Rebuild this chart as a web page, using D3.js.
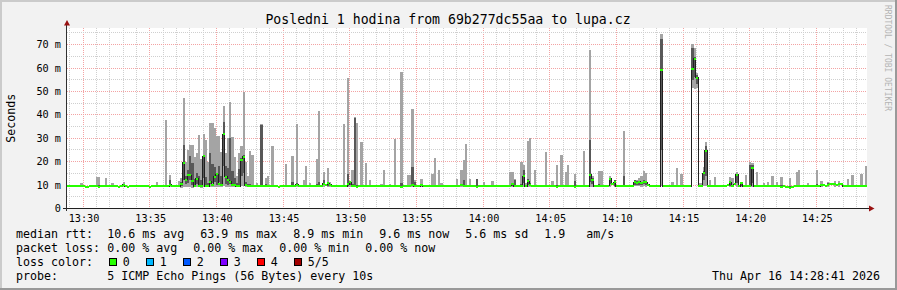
<!DOCTYPE html>
<html lang="en">
<head>
<meta charset="UTF-8">
<title>Smokeping - lupa.cz</title>
<script src="https://cdn.jsdelivr.net/npm/d3@7"></script>
<style>
  body { margin: 0; background: #f2f2f2; }
  text { font-family: "DejaVu Sans Mono", monospace; fill: #000; }
</style>
</head>
<body>
<div id="smoke"></div>
<script>

// ---- data ----
var title = "Posledni 1 hodina from 69b277dc55aa to lupa.cz";
var chartStart = "2026-04-16T13:28:47";
var chartEnd = "2026-04-16T14:28:47";
var stepSeconds = 10;

var yTicks = [0, 10, 20, 30, 40, 50, 60, 70];
var xTickLabels = ["13:30", "13:35", "13:40", "13:45", "13:50", "13:55",
                   "14:00", "14:05", "14:10", "14:15", "14:20", "14:25"];

// median rtt (ms), one value per 10 s step, 30 per row = 5 minutes
var medianMs = [
  9.6,9.5,9.6,9.4,9.5,9.7,9.8,9.5,9.2,9.3, 9.4,9.5,9.6,9.4,9.3,9.5,9.6,9.5,9.4,9.6, 9.5,9.7,9.6,9.3,9.5,10.1,9.6,9.2,9.4,9.5,
  9.5,9.6,9.4,9.5,9.7,9.6,9.5,9.3,9.6,9.5, 9.4,9.5,9.6,9.5,9.8,9.6,10.2,9.5,9.4,9.6, 9.5,10.6,19.6,12.3,14.4,14.2,11.6,9.5,12.7,9.6,
  9.5,22.3,9.6,9.4,11.4,10.2,13.6,14.7,10.4,10.2, 31.8,13.6,12.0,11.4,9.9,10.0,9.6,9.5,20.7,22.1, 10.0,9.6,9.8,9.5,9.6,9.7,9.5,9.6,9.4,9.6,
  9.6,9.4,9.5,9.7,9.5,9.2,9.4,9.6,9.5,9.5, 9.6,9.8,9.7,10.2,9.5,9.4,9.5,9.6,9.4,9.5, 9.6,9.5,9.4,9.8,9.6,10.5,10.2,10.8,10.1,9.7,
  9.5,9.6,9.4,9.5,9.6,9.4,10.4,11.2,9.4,9.6, 9.3,9.7,9.5,9.6,9.4,9.5,9.6,9.5,9.4,9.6, 9.5,9.7,9.6,9.5,9.4,9.6,9.5,9.6,9.8,9.5,
  9.3,9.5,9.6,9.7,9.8,9.9,9.4,9.6,9.5,10.1, 9.6,9.5,9.4,9.6,9.7,9.5,9.6,9.8,9.5,9.4, 9.6,9.5,9.7,9.5,9.4,9.6,9.8,9.9,9.7,9.6,
  9.6,9.5,9.4,9.6,9.2,9.5,9.6,9.7,9.5,9.4, 9.6,9.5,9.4,9.6,9.5,9.7,9.6,9.5,9.4,9.7, 10.3,9.5,9.6,9.5,9.8,13.7,9.5,11.6,10.0,9.6,
  9.5,9.7,9.4,9.6,9.5,9.8,9.6,9.4,9.5,9.6, 9.3,9.5,9.6,9.7,9.5,9.4,9.6,9.5,9.2,9.5, 9.6,9.5,9.7,9.6,9.4,14.4,12.3,9.5,9.6,9.5,
  9.5,9.6,9.4,9.7,12.7,10.3,11.2,9.5,9.6,9.4, 9.6,9.5,9.7,9.6,9.5,11.2,11.0,11.4,10.9,11.3, 11.2,10.2,9.6,9.5,9.7,9.6,9.4,59.3,9.6,9.5,
  9.6,9.5,9.7,9.5,9.4,9.6,9.5,9.6,9.4,9.5, 9.6,59.8,63.9,55.8,9.6,9.5,15.1,24.7,9.6,9.5, 9.4,9.6,9.5,9.4,9.6,9.5,9.7,10.1,11.2,9.6,
  10.4,14.4,9.6,10.9,9.5,9.6,9.4,9.8,17.3,9.6, 9.5,9.6,9.4,9.5,9.6,9.7,9.5,9.6,9.4,9.5, 9.6,9.3,9.5,9.2,9.0,8.8,9.3,9.5,9.6,9.7,
  9.4,9.6,9.5,9.7,9.5,9.6,9.4,9.8,9.6,9.9, 10.1,9.8,10.2,10.4,10.6,10.5,10.2,10.6,10.3,9.6, 9.5,9.6,9.5,9.4,9.6,9.5,9.6,9.4,9.5,9.6
];

// smoke where it shows above the median line: [step, min, 2nd, 4th, max] ping rtt (ms)
var smokeRows = [
  [6,9.0,9.3,9.9,10.8],[13,9.1,9.4,10.0,13.4],[14,9.0,9.3,9.9,13.4],[17,9.1,9.3,10.0,13.0],
  [20,9.0,9.4,9.8,10.8],[25,9.0,9.5,10.4,11.3],[40,9.0,9.4,9.9,11.3],[44,9.2,9.5,10.2,37.7],
  [46,9.1,9.6,12.0,14.4],[50,9.0,9.4,10.2,11.8],[51,8.9,9.5,11.5,13.0],[52,9.1,12.0,27.2,47.0],
  [53,9.0,10.5,14.0,19.9],[54,9.2,11.0,16.5,24.8],[55,9.3,12.0,22.4,27.1],[56,8.9,10.0,19.5,27.0],
  [57,9.0,9.4,12.4,22.0],[58,9.1,10.5,15.0,23.7],[59,9.2,9.8,14.0,31.5],[60,8.9,9.3,12.0,21.0],
  [61,9.0,13.0,22.4,31.8],[62,9.1,9.5,13.5,29.3],[63,9.0,9.4,11.0,20.0],[64,9.2,10.5,23.6,36.4],
  [65,9.1,11.0,19.0,36.6],[66,9.3,11.5,17.8,34.4],[67,9.0,10.0,15.0,30.8],[68,9.2,11.5,18.0,30.8],
  [69,9.1,10.0,14.0,24.0],[70,9.4,18.0,36.8,43.7],[71,9.0,10.5,18.0,23.6],[72,9.1,10.0,17.1,30.0],
  [73,9.2,10.5,30.0,45.6],[74,9.0,9.9,16.0,30.5],[75,9.1,9.8,13.0,22.0],[76,9.0,9.5,11.0,14.0],
  [77,9.2,10.0,17.0,23.6],[78,9.5,14.0,21.5,26.6],[79,9.6,15.0,23.0,49.8],[80,9.0,9.8,11.5,20.0],
  [81,9.1,9.6,10.5,14.0],[82,9.0,9.5,10.5,24.5],[83,9.1,9.5,10.2,22.7],[85,9.0,9.4,10.0,11.0],
  [87,9.1,9.6,35.8,36.2],[89,9.0,9.5,10.3,13.0],
  [90,9.0,9.4,10.0,13.7],[92,9.1,9.5,10.2,26.8],[98,9.0,9.4,10.0,19.0],[101,9.1,9.6,11.5,22.6],
  [103,9.2,9.8,11.0,36.1],[106,9.0,9.4,10.0,12.0],[107,9.1,9.5,10.2,18.1],[109,9.0,9.4,10.0,11.0],
  [112,9.1,9.6,10.5,21.1],[113,9.2,9.8,11.5,41.8],[115,9.3,10.0,12.0,15.6],[117,9.1,9.6,10.8,17.3],
  [118,9.0,9.5,10.2,11.2],[124,9.0,9.4,10.0,36.1],[126,9.1,9.6,14.7,55.8],[127,9.2,10.0,11.5,11.8],
  [128,9.0,9.4,10.5,16.5],[129,9.1,9.6,38.7,39.0],[130,9.0,9.4,10.0,36.6],[132,9.1,9.5,10.2,28.4],
  [134,9.0,9.4,10.0,19.4],[136,9.0,9.4,9.9,12.0],[141,9.0,9.4,9.9,10.5],[142,9.1,9.5,10.0,16.4],
  [145,9.0,9.4,9.9,10.5],[147,9.1,9.5,10.0,29.8],[150,9.0,9.3,11.0,58.4],[153,9.1,9.5,10.0,14.4],
  [154,9.0,9.5,10.0,14.4],[155,9.2,9.6,17.7,42.3],[156,9.0,9.4,11.5,12.0],[159,9.1,9.6,10.5,12.6],
  [164,9.0,9.5,10.0,14.9],[165,9.1,9.5,10.2,21.6],[167,9.0,9.5,10.0,16.4],[168,9.0,9.4,9.9,10.8],
  [175,9.0,9.4,10.0,12.6],[177,9.1,9.5,10.0,16.5],[178,9.2,9.6,12.0,20.8],[179,9.1,9.5,10.2,27.6],
  [181,9.0,9.4,10.0,12.5],[184,9.0,9.2,12.4,12.6],[187,9.0,9.4,10.0,11.5],[191,9.0,9.4,10.0,11.8],
  [199,9.1,9.5,10.2,15.6],[200,9.0,9.4,10.0,15.6],[201,9.2,9.8,12.2,12.5],[204,9.1,9.5,10.5,19.7],
  [205,9.3,11.0,16.6,18.7],[206,9.0,9.4,10.0,11.0],[207,9.2,10.0,12.5,28.7],[208,9.1,9.6,11.0,30.1],
  [210,9.1,9.5,10.2,16.5],[215,9.0,9.5,10.0,24.1],[218,9.0,9.4,9.9,11.8],[220,9.1,9.5,10.0,18.7],
  [222,9.0,9.5,10.0,23.0],[224,9.0,9.4,10.0,15.4],[225,9.1,9.5,10.0,18.7],[228,9.0,9.2,11.8,14.9],
  [232,9.0,9.5,10.0,24.7],[235,9.3,11.5,29.4,67.6],[236,9.2,10.5,13.0,14.0],[239,9.0,9.5,10.5,16.0],
  [240,9.0,9.5,10.0,16.0],[244,9.2,10.5,13.0,13.8],[246,9.1,9.8,12.0,12.2],[250,9.0,9.5,13.9,33.0],
  [255,9.5,10.2,12.0,12.2],[256,9.4,10.0,11.8,12.0],[257,9.4,10.2,11.8,13.0],[258,9.3,10.0,11.5,14.0],
  [259,9.4,10.4,12.0,15.9],[260,9.3,10.0,11.6,15.0],[267,9.5,25.0,72.3,74.4],
  [272,9.0,9.4,10.0,11.3],[274,9.1,9.5,10.2,17.3],[276,9.0,9.5,10.0,14.9],[281,51.6,55.0,68.7,70.4],
  [282,51.0,56.0,64.5,68.7],[283,51.6,53.0,57.0,58.0],[284,9.0,9.4,10.0,10.8],[285,9.0,9.4,10.0,10.8],
  [286,9.5,12.0,16.0,17.6],[287,9.8,14.0,26.5,28.4],[289,9.0,9.4,10.0,12.2],[291,9.0,9.5,10.0,13.4],
  [298,9.1,9.8,11.5,13.4],[299,9.0,9.5,10.0,13.0],[301,9.3,11.0,14.4,15.6],[303,9.0,9.5,11.3,11.5],
  [305,9.0,9.5,10.0,14.3],[307,9.2,10.0,18.7,19.8],[308,9.3,11.0,18.4,19.4],[310,9.0,9.5,10.0,15.6],
  [313,9.0,9.4,10.0,10.8],[315,9.0,9.4,10.0,11.2],[317,9.0,9.5,10.0,14.0],[319,9.0,9.4,9.9,11.2],
  [321,9.0,9.4,10.0,13.4],[325,8.6,8.8,9.4,12.9],[328,9.0,9.5,10.0,15.6],[329,9.1,9.6,10.2,16.3],
  [333,9.0,9.4,10.0,10.8],[337,9.1,9.6,10.5,16.3],[339,9.2,9.8,10.5,11.8],[342,9.3,10.0,10.8,11.3],
  [345,9.3,10.2,11.0,11.8],[347,9.3,10.2,11.0,11.8],[351,9.0,9.5,10.0,12.6],[353,9.0,9.4,10.0,14.4],
  [357,9.0,9.5,10.0,14.9],[359,9.1,9.5,10.2,18.3]
];

// legend
var medianStats = ["10.6 ms avg", "63.9 ms max", "8.9 ms min", "9.6 ms now", "5.6 ms sd", "1.9   am/s"];
var lossStats = ["0.00 % avg", "0.00 % max", "0.00 % min", "0.00 % now"];
var lossLabels = ["0", "1", "2", "3", "4", "5/5"];
var lossColors = ["#26ff00", "#00b8ff", "#0059ff", "#7e00ff", "#ff0000", "#a10000"];
var probeText = "5 ICMP Echo Pings (56 Bytes) every 10s";
var stamp = "Thu Apr 16 14:28:41 2026";


// ---- layout ----
var W = 897, H = 290;
var plotLeft = 67, plotRight = 867, plotTop = 28, plotBottom = 208.5;
var charW = 7.0, valueX = 107.3, itemGap = 16;

var parse = d3.timeParse("%Y-%m-%dT%H:%M:%S");
var t0 = parse(chartStart), t1 = parse(chartEnd);

var svg = d3.select("#smoke").append("svg")
    .attr("width", W).attr("height", H);

// background and 3d frame
svg.append("rect").attr("width", W).attr("height", H).attr("fill", "#f2f2f2");
svg.append("rect").attr("x", 0).attr("y", 0).attr("width", W).attr("height", 2).attr("fill", "#cbcbcb");
svg.append("rect").attr("x", 0).attr("y", 0).attr("width", 2).attr("height", H).attr("fill", "#cbcbcb");
svg.append("rect").attr("x", W - 2).attr("y", 0).attr("width", 2).attr("height", H).attr("fill", "#999999");
svg.append("rect").attr("x", 0).attr("y", H - 2).attr("width", W).attr("height", 2).attr("fill", "#999999");

// canvas
svg.append("rect").attr("x", plotLeft).attr("y", plotTop)
    .attr("width", plotRight - plotLeft).attr("height", plotBottom - plotTop).attr("fill", "#ffffff");

var x = d3.scaleTime().domain([t0, t1]).range([plotLeft, plotRight]);
var y = d3.scaleLinear().domain([0, 77.1]).range([plotBottom, plotTop]);

function px(v) { return Math.floor(v) + 0.5; }

// grid
var grid = svg.append("g").attr("shape-rendering", "crispEdges");
var majorTimes = xTickLabels.map(function(s) { return parse("2026-04-16T" + s + ":00"); });
var majorKeys = majorTimes.map(function(d) { return +d; });
d3.timeMinute.range(t0, t1).forEach(function(d) {
  var major = majorKeys.indexOf(+d) >= 0;
  grid.append("line")
    .attr("x1", px(x(d))).attr("x2", px(x(d)))
    .attr("y1", plotTop).attr("y2", plotBottom)
    .attr("stroke", major ? "#f3a3a3" : "#cfcfcf")
    .attr("stroke-dasharray", "1,1");
});
d3.range(5, 77, 5).forEach(function(v) {
  var major = v % 10 === 0;
  grid.append("line")
    .attr("x1", plotLeft).attr("x2", plotRight)
    .attr("y1", px(y(v))).attr("y2", px(y(v)))
    .attr("stroke", major ? "#f3a3a3" : "#cfcfcf")
    .attr("stroke-dasharray", "1,1");
});

// plot area, clipped
svg.append("clipPath").attr("id", "clip")
  .append("rect").attr("x", plotLeft).attr("y", plotTop)
  .attr("width", plotRight - plotLeft).attr("height", plotBottom - plotTop);
var plot = svg.append("g").attr("clip-path", "url(#clip)");

function stepTime(i) { return d3.timeSecond.offset(t0, i * stepSeconds); }

// smoke: outer band min..max, inner band 2nd..4th ping
var smoke = plot.append("g").attr("shape-rendering", "crispEdges");
smoke.selectAll("rect.outer")
  .data(smokeRows).enter().append("rect")
    .attr("class", "outer")
    .attr("x", function(d) { return x(stepTime(d[0])); })
    .attr("width", function(d) { return x(stepTime(d[0] + 1)) - x(stepTime(d[0])); })
    .attr("y", function(d) { return y(d[4]); })
    .attr("height", function(d) { return y(d[1]) - y(d[4]); })
    .attr("fill", "#a4a4a4");
smoke.selectAll("rect.inner")
  .data(smokeRows).enter().append("rect")
    .attr("class", "inner")
    .attr("x", function(d) { return x(stepTime(d[0])); })
    .attr("width", function(d) { return x(stepTime(d[0] + 1)) - x(stepTime(d[0])); })
    .attr("y", function(d) { return y(d[3]); })
    .attr("height", function(d) { return y(d[2]) - y(d[3]); })
    .attr("fill", "#585858");

// median line (steps)
var medianPts = medianMs.map(function(v, i) { return [stepTime(i), v]; });
medianPts.push([stepTime(medianMs.length), medianMs[medianMs.length - 1]]);
plot.append("path")
  .datum(medianPts)
  .attr("d", d3.line()
    .x(function(d) { return x(d[0]); })
    .y(function(d) { return y(d[1]); })
    .curve(d3.curveStepAfter))
  .attr("fill", "none")
  .attr("stroke", "#202020")
  .attr("stroke-width", 1)
  .attr("shape-rendering", "crispEdges");

// median marks coloured by loss (all 0 loss here)
plot.append("g").attr("shape-rendering", "crispEdges")
  .selectAll("rect")
  .data(medianMs).enter().append("rect")
    .attr("x", function(d, i) { return x(stepTime(i)); })
    .attr("width", function(d, i) { return x(stepTime(i + 1)) - x(stepTime(i)); })
    .attr("y", function(d) { return y(d) - 1; })
    .attr("height", 2)
    .attr("fill", lossColors[0]);

// axes
svg.append("line").attr("x1", 63).attr("x2", 870).attr("y1", px(plotBottom)).attr("y2", px(plotBottom))
  .attr("stroke", "#202020").attr("shape-rendering", "crispEdges");
svg.append("line").attr("x1", 66.5).attr("x2", 66.5).attr("y1", 211).attr("y2", 24)
  .attr("stroke", "#303030").attr("shape-rendering", "crispEdges");
svg.append("path").attr("d", "M64,25.5 L70,25.5 L67,20 Z").attr("fill", "#991111");
svg.append("path").attr("d", "M869,205.5 L869,211.5 L874.5,208.5 Z").attr("fill", "#991111");

// tick labels
svg.append("g").selectAll("text")
  .data(yTicks).enter().append("text")
    .attr("x", 61)
    .attr("y", function(d) { return y(d) + 3.6; })
    .attr("text-anchor", "end")
    .style("font-size", "10.2px")
    .text(function(d) { return d === 0 ? "0" : d + " m"; });

svg.append("g").selectAll("text")
  .data(majorTimes).enter().append("text")
    .attr("x", function(d) { return x(d) + 0.8; })
    .attr("y", 221.5)
    .attr("text-anchor", "middle")
    .style("font-size", "10.2px")
    .text(d3.timeFormat("%H:%M"));

// titles
svg.append("text").attr("x", 448).attr("y", 24)
  .attr("text-anchor", "middle").style("font-size", "13.2px").text(title);
svg.append("text")
  .attr("transform", "translate(15," + ((plotTop + plotBottom) / 2) + ") rotate(-90)")
  .attr("text-anchor", "middle").style("font-size", "11.6px").text("Seconds");
svg.append("text")
  .attr("transform", "translate(884.5,5) rotate(90)")
  .style("font-size", "8px").style("fill", "#b4b4b4")
  .text("RRDTOOL / TOBI OETIKER");

// legend
var legend = svg.append("g").style("font-size", "11.63px");
function row(label, y0, items) {
  legend.append("text").attr("x", 16).attr("y", y0).text(label);
  var cx = valueX;
  items.forEach(function(s) {
    legend.append("text").attr("x", cx).attr("y", y0).style("white-space", "pre").text(s);
    cx += s.length * charW + itemGap;
  });
}
row("median rtt:", 238, medianStats);
row("packet loss:", 252, lossStats);

legend.append("text").attr("x", 16).attr("y", 266).text("loss color:");
var bx = valueX + 1.4;
lossLabels.forEach(function(s, i) {
  legend.append("rect")
    .attr("x", Math.round(bx) + 0.5).attr("y", 258.5)
    .attr("width", 7).attr("height", 7)
    .attr("fill", lossColors[i]).attr("stroke", "#000").attr("stroke-width", 1);
  legend.append("text").attr("x", bx + 14).attr("y", 266).text(s);
  bx += 14 + s.length * charW + itemGap;
});

row("probe:", 280, [probeText]);
legend.append("text").attr("x", 880).attr("y", 280).attr("text-anchor", "end").text(stamp);

</script>
</body>
</html>
